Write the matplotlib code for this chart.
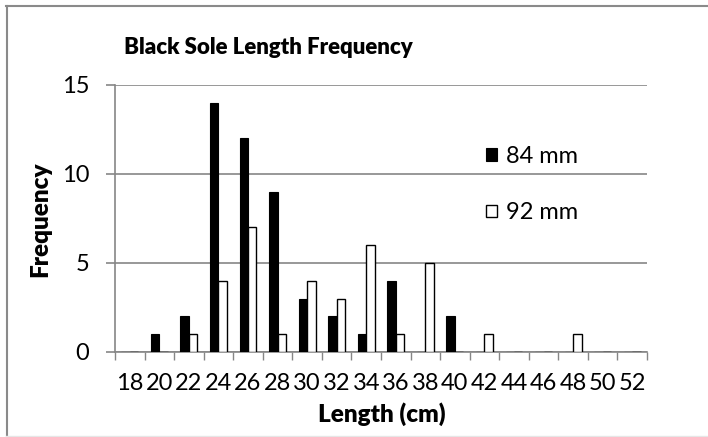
import matplotlib
matplotlib.use("Agg")
import matplotlib.pyplot as plt
from matplotlib.patches import Patch
from matplotlib.lines import Line2D
import numpy as np

# length classes (cm) and counts per mesh size
lengths = [18, 20, 22, 24, 26, 28, 30, 32, 34, 36, 38, 40, 42, 44, 46, 48, 50, 52]
mesh_84 = [0, 1, 2, 14, 12, 9, 3, 2, 1, 4, 0, 2, 0, 0, 0, 0, 0, 0]
mesh_92 = [0, 0, 1, 4, 7, 1, 4, 3, 6, 1, 5, 0, 1, 0, 0, 1, 0, 0]
series_names = ["84 mm", "92 mm"]

plt.rcParams['font.family'] = ['Lato', 'DejaVu Sans']

W, H = 708, 437
fig = plt.figure(figsize=(W / 100, H / 100), dpi=100)
ax = fig.add_axes([115 / W, 1 - 352 / H, 532 / W, 267 / H])

grid_col = '#868686'
x = np.arange(len(lengths))
w = 1 / 3.5  # excel gap width 150%
ax.bar(x - w / 2, mesh_84, width=w, color='black', edgecolor='black', linewidth=0.8, zorder=3)
ax.bar(x + w / 2, mesh_92, width=w, color='white', edgecolor='black', linewidth=1.0, zorder=3)

ax.set_xlim(-0.5, len(lengths) - 0.5)
ax.set_ylim(0, 15)
ax.set_yticks([0, 5, 10, 15])
ax.yaxis.grid(True, color=grid_col, linewidth=1.2, zorder=0)
ax.set_xticks(x)
ax.set_xticklabels([str(v) for v in lengths])
ax.set_xticks(np.arange(-0.5, len(lengths)), minor=True)
ax.tick_params(axis='x', which='major', length=0, pad=15, labelsize=17)
ax.tick_params(axis='x', which='minor', length=6, width=1, color=grid_col, direction='out')
ax.tick_params(axis='y', length=6.5, width=1.2, color=grid_col, pad=12, labelsize=17)

for side in ['top', 'right']:
    ax.spines[side].set_visible(False)
for side in ['left', 'bottom']:
    ax.spines[side].set_color(grid_col)
    ax.spines[side].set_linewidth(1.2)

ax.set_xlabel("Length (cm)", fontsize=17.5, fontweight='heavy')
ax.xaxis.set_label_coords(382 / W, 1 - 414 / H, transform=fig.transFigure)
ax.xaxis.label.set_va('center')
ax.set_ylabel("Frequency", fontsize=17.5, fontweight='heavy')
ax.yaxis.set_label_coords(40 / W, 1 - 219 / H, transform=fig.transFigure)
ax.yaxis.label.set_va('center')

fig.text(268 / W, 1 - 47 / H, "Black Sole Length Frequency", fontsize=16,
         fontweight='heavy', ha='center', va='center')

handles = [Patch(facecolor='black', edgecolor='black', linewidth=0.8),
           Patch(facecolor='white', edgecolor='black', linewidth=1.0)]
ax.legend(handles, series_names, loc='upper left',
          bbox_to_anchor=(486 / W, 1 - 146 / H), bbox_transform=fig.transFigure,
          frameon=False, fontsize=17, borderpad=0, borderaxespad=0,
          handlelength=0.45, handleheight=0.45, handletextpad=0.4, labelspacing=1.5)

# chart area border (cropped excel chart)
fig.add_artist(Line2D([6 / W, 1], [1 - 5.5 / H, 1 - 5.5 / H], transform=fig.transFigure,
                      color='#8a8a8a', linewidth=1.5))
fig.add_artist(Line2D([6.5 / W, 6.5 / W], [0, 1 - 5.5 / H], transform=fig.transFigure,
                      color='#8a8a8a', linewidth=1.5))
fig.add_artist(Line2D([6 / W, 1], [0.8 / H, 0.8 / H], transform=fig.transFigure,
                      color='#e6e6e6', linewidth=1.0))

fig.savefig("out.png", dpi=100)
